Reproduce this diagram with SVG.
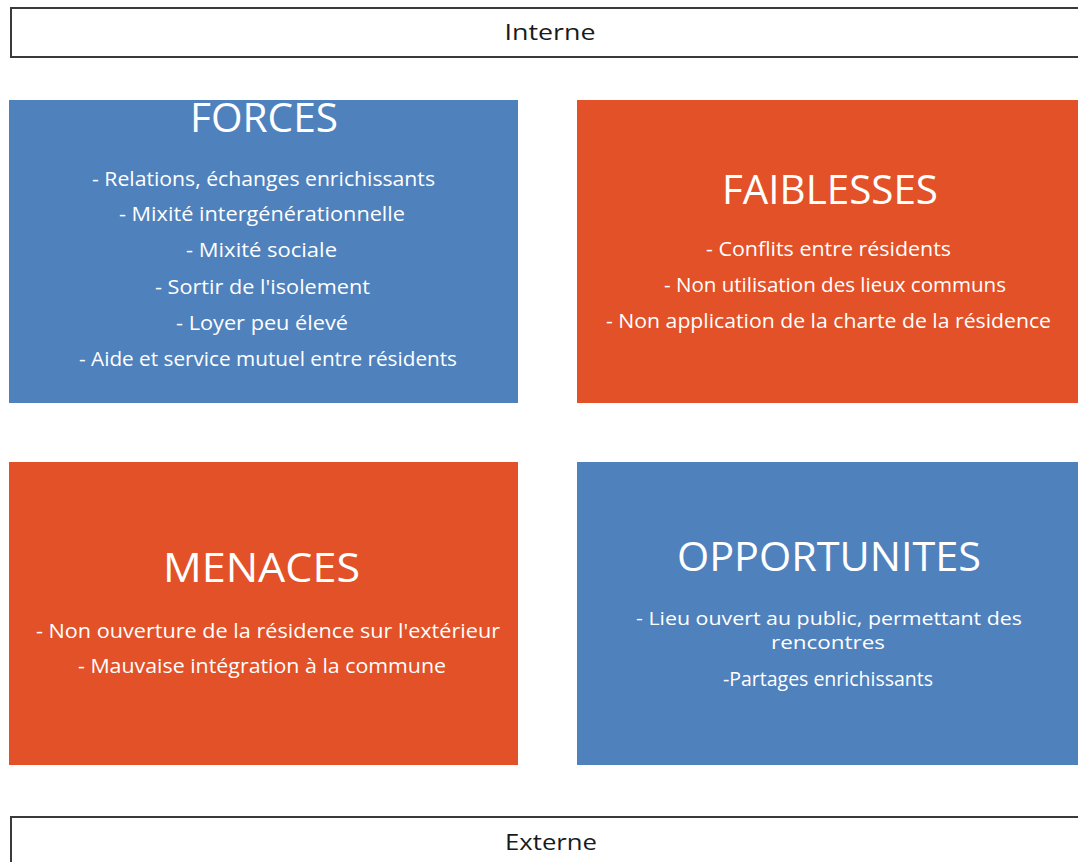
<svg xmlns="http://www.w3.org/2000/svg" width="1078" height="862" viewBox="0 0 1078 862">
<style>
.band{fill:#ffffff;stroke:#3a3a3a;stroke-width:2}
.bandt{font-family:"Open Sans","DejaVu Sans",sans-serif;font-size:21px;fill:#1a1a1a;text-anchor:middle}
.blue{fill:#4f81bd}
.orange{fill:#e25128}
.title{font-family:"Open Sans","DejaVu Sans",sans-serif;font-size:40px;fill:#ffffff;text-anchor:middle}
.body{font-family:"Open Sans","DejaVu Sans",sans-serif;font-size:19.5px;fill:#ffffff;text-anchor:middle}
.tight{font-size:17.5px}
</style>
<rect width="1078" height="862" fill="#ffffff"/>
<g id="interne">
<rect class="band" x="11" y="8" width="1080" height="49"/>
<text class="bandt" x="550" y="40" textLength="91" lengthAdjust="spacingAndGlyphs">Interne</text>
</g>
<g id="forces">
<rect class="blue" x="9" y="100" width="509" height="303"/>
<text class="title" x="264" y="132" textLength="148" lengthAdjust="spacingAndGlyphs">FORCES</text>
<text class="body" x="263.5" y="186" textLength="343" lengthAdjust="spacingAndGlyphs">- Relations, échanges enrichissants</text>
<text class="body" x="262" y="221" textLength="286" lengthAdjust="spacingAndGlyphs">- Mixité intergénérationnelle</text>
<text class="body" x="261.5" y="257" textLength="151" lengthAdjust="spacingAndGlyphs">- Mixité sociale</text>
<text class="body" x="262.5" y="294" textLength="215" lengthAdjust="spacingAndGlyphs">- Sortir de l'isolement</text>
<text class="body" x="262" y="330" textLength="172" lengthAdjust="spacingAndGlyphs">- Loyer peu élevé</text>
<text class="body" x="268" y="366" textLength="378" lengthAdjust="spacingAndGlyphs">- Aide et service mutuel entre résidents</text>
</g>
<g id="faiblesses">
<rect class="orange" x="577" y="100" width="510" height="303"/>
<text class="title" x="830" y="204" textLength="216" lengthAdjust="spacingAndGlyphs">FAIBLESSES</text>
<text class="body" x="828.5" y="256" textLength="245" lengthAdjust="spacingAndGlyphs">- Conflits entre résidents</text>
<text class="body" x="835" y="292" textLength="342" lengthAdjust="spacingAndGlyphs">- Non utilisation des lieux communs</text>
<text class="body" x="828.5" y="328" textLength="445" lengthAdjust="spacingAndGlyphs">- Non application de la charte de la résidence</text>
</g>
<g id="menaces">
<rect class="orange" x="9" y="462" width="509" height="303"/>
<text class="title" x="261.5" y="582" textLength="197" lengthAdjust="spacingAndGlyphs">MENACES</text>
<text class="body" x="268" y="638" textLength="464" lengthAdjust="spacingAndGlyphs">- Non ouverture de la résidence sur l'extérieur</text>
<text class="body" x="262" y="673" textLength="368" lengthAdjust="spacingAndGlyphs">- Mauvaise intégration à la commune</text>
</g>
<g id="opportunites">
<rect class="blue" x="577" y="462" width="510" height="303"/>
<text class="title" x="829" y="571" textLength="304" lengthAdjust="spacingAndGlyphs">OPPORTUNITES</text>
<text class="body tight" x="829" y="625" textLength="386" lengthAdjust="spacingAndGlyphs">- Lieu ouvert au public, permettant des</text>
<text class="body tight" x="828" y="649" textLength="114" lengthAdjust="spacingAndGlyphs">rencontres</text>
<text class="body" x="828" y="686" textLength="210" lengthAdjust="spacingAndGlyphs">-Partages enrichissants</text>
</g>
<g id="externe">
<rect class="band" x="11" y="817" width="1080" height="60"/>
<text class="bandt" x="551" y="850" textLength="92" lengthAdjust="spacingAndGlyphs">Externe</text>
</g>
<g id="connectors"></g>
</svg>
